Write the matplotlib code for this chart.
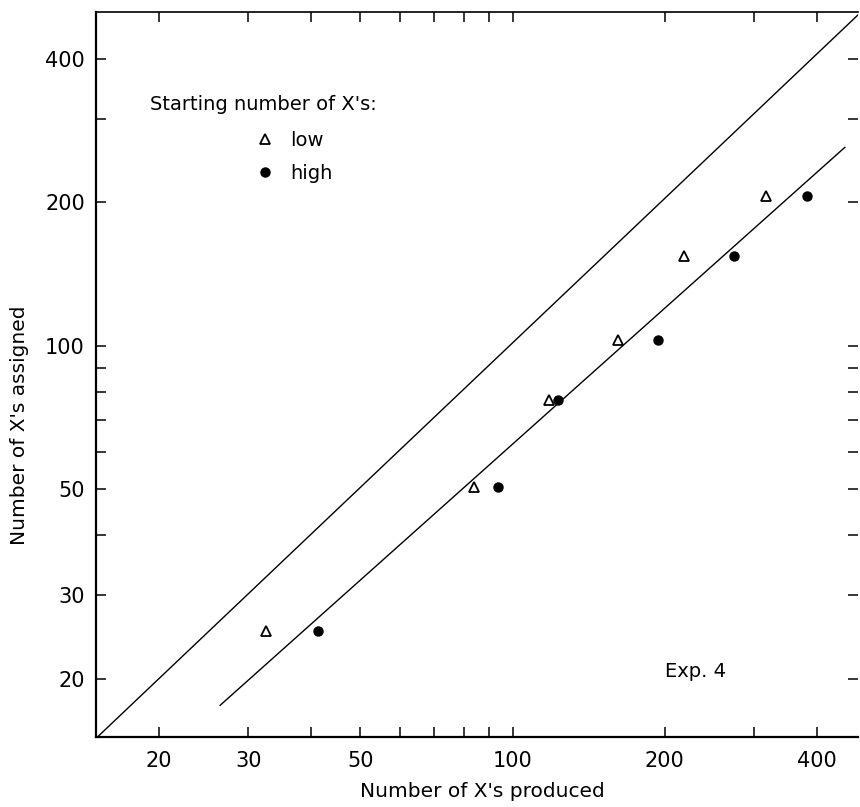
import matplotlib
matplotlib.use("Agg")
import matplotlib.pyplot as plt
from matplotlib.ticker import FixedLocator, FixedFormatter, NullLocator
from matplotlib.lines import Line2D

# ---- data ----
low_x = [32.6, 83.8, 118, 161.5, 218, 317]
low_y = [25.2, 50.5, 77, 103, 154, 206]
high_x = [41.3, 93.7, 122.7, 193.6, 274, 382]
high_y = [25.2, 50.5, 77, 103, 154, 206]

ref_x = [15, 482]       # line of equality
ref_y = [15, 495]
fit_x = [26.4, 454]     # fitted line
fit_y = [17.6, 261]

tick_vals = [20, 30, 40, 50, 60, 70, 80, 90, 100, 200, 300, 400]
tick_labels = ["20", "30", "", "50", "", "", "", "", "100", "200", "", "400"]

plt.rcParams['font.family'] = ['DejaVu Sans']

fig = plt.figure(figsize=(8.6, 8.07), dpi=100)
ax = fig.add_axes([96/860, 70/807, 762/860, 725/807])

ax.set_xscale('log')
ax.set_yscale('log')
ax.set_xlim(15, 482)
ax.set_ylim(15.1, 502)

ax.plot(ref_x, ref_y, color='black', lw=1.0)
ax.plot(fit_x, fit_y, color='black', lw=1.0)

ax.plot(low_x, low_y, linestyle='none', marker='^', markersize=6.5,
        markerfacecolor='white', markeredgecolor='black', markeredgewidth=1.3)
ax.plot(high_x, high_y, linestyle='none', marker='o', markersize=6.5,
        color='black')

for axis in (ax.xaxis, ax.yaxis):
    axis.set_major_locator(FixedLocator(tick_vals))
    axis.set_major_formatter(FixedFormatter(tick_labels))
    axis.set_minor_locator(NullLocator())

ax.tick_params(axis='both', which='major', direction='in', length=7, width=1.1,
               labelsize=15, top=True, right=True)
ax.tick_params(axis='x', pad=10)
ax.tick_params(axis='y', pad=8)

for s in ['left', 'bottom']:
    ax.spines[s].set_linewidth(1.6)
ax.spines['top'].set_linewidth(1.2)
ax.spines['right'].set_visible(False)

ax.set_xlabel("Number of X's produced", fontsize=14.5)
ax.xaxis.set_label_coords(0.507, -0.062)
ax.set_ylabel("Number of X's assigned", fontsize=14.5)
ax.yaxis.set_label_coords(-0.088, 0.43)

ax.text(200, 20.7, "Exp. 4", fontsize=14, va='center', ha='left')

ax.text(0.071, 0.872, "Starting number of X's:", transform=ax.transAxes,
        fontsize=14, va='center', ha='left')
handles = [
    Line2D([], [], linestyle='none', marker='^', markersize=6.5,
           markerfacecolor='white', markeredgecolor='black', markeredgewidth=1.3),
    Line2D([], [], linestyle='none', marker='o', markersize=6.5, color='black'),
]
ax.legend(handles, ['low', 'high'], loc='upper left',
          bbox_to_anchor=(0.211, 0.836), frameon=False, fontsize=14,
          handlelength=0.8, handletextpad=0.9, labelspacing=0.7,
          borderaxespad=0, borderpad=0)

fig.savefig("out.png", dpi=100)
